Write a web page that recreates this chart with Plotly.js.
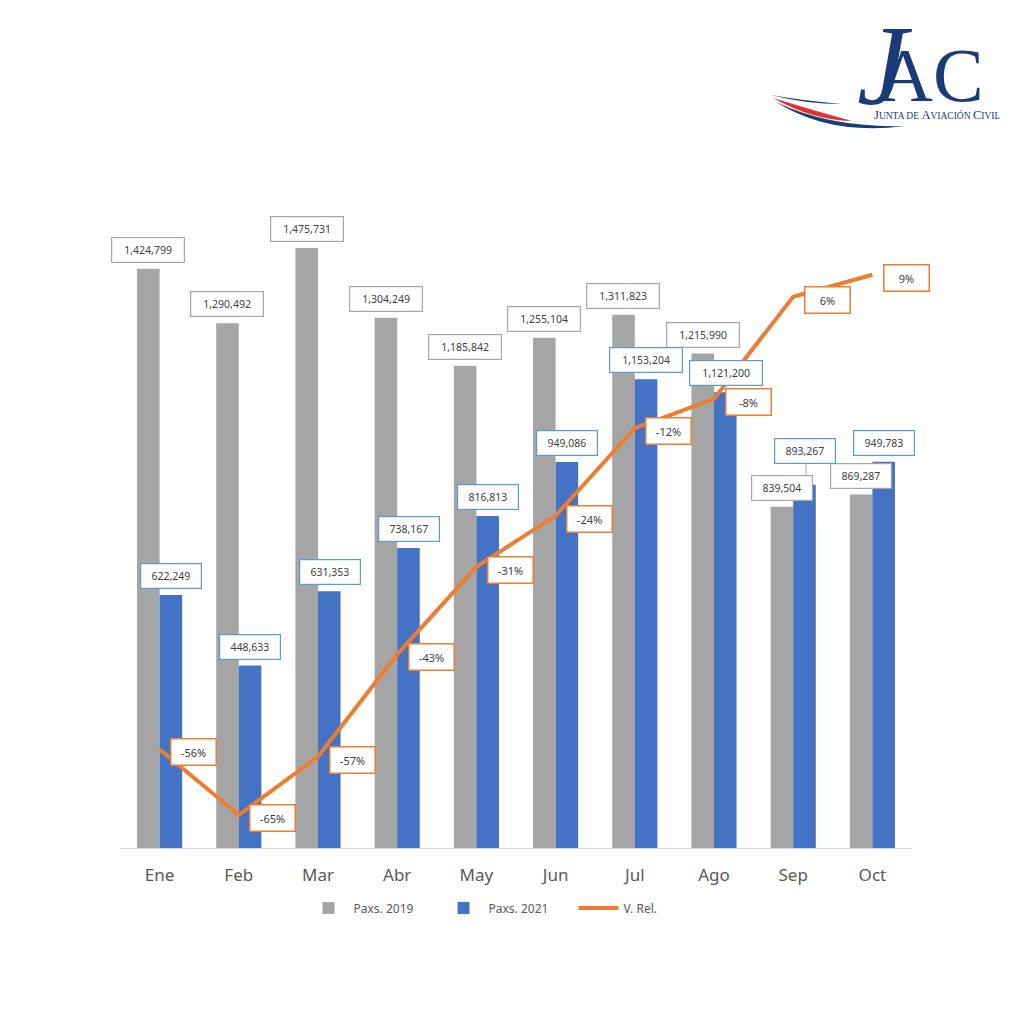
<!DOCTYPE html>
<html><head><meta charset="utf-8">
<script src="https://cdn.plot.ly/plotly-3.0.1.min.js"></script>
<style>html,body{margin:0;padding:0;background:#fff}#chart{width:1024px;height:1024px}</style>
</head><body><div id="chart"></div>
<script>
const months = ['Ene','Feb','Mar','Abr','May','Jun','Jul','Ago','Sep','Oct'];
const pax2019 = [1424799,1290492,1475731,1304249,1185842,1255104,1311823,1215990,839504,869287];
const pax2021 = [622249,448633,631353,738167,816813,949086,1153204,1121200,893267,949783];
const varRel = [-56,-65,-57,-43,-31,-24,-12,-8,6,9];
const seriesNames = ['Paxs. 2019','Paxs. 2021','V. Rel.'];

const GRAY='#A5A5A5', BLUE='#4472C4', ORANGE='#ED7D31';
const FONT='Noto Sans, Open Sans, sans-serif';
const L=120, R=912, T=220, B=848;
const px = x => (x-L)/(R-L);
const py = y => (B-y)/(B-T);

const traces = [
  {type:'bar', name:seriesNames[0], x:months, y:pax2019, marker:{color:GRAY}, hoverinfo:'skip'},
  {type:'bar', name:seriesNames[1], x:months, y:pax2021, marker:{color:BLUE}, hoverinfo:'skip'},
  {type:'scatter', mode:'lines', name:seriesNames[2], x:months, y:varRel, yaxis:'y2',
   line:{color:ORANGE, width:4}, hoverinfo:'skip'}
];

const fmt = v => v.toLocaleString('en-US');
const boxW = t => t.length*6.2+8;
const ann = [];
months.forEach((m,i)=>{
  const t1 = fmt(pax2019[i]);
  ann.push({x:m, y:pax2019[i], xref:'x', yref:'y', xshift:-11.5, yshift:19, showarrow:false,
    text:t1, width:boxW(t1), height:16, borderpad:4, bgcolor:'#fff', bordercolor:'#A6A6A6', borderwidth:1.2,
    font:{family:FONT, size:10.5, color:'#404040'}});
});
months.forEach((m,i)=>{
  const t2 = fmt(pax2021[i]);
  ann.push({x:m, y:pax2021[i], xref:'x', yref:'y', xshift:11.5, yshift:(m==='Sep'?34:19), showarrow:false,
    text:t2, width:boxW(t2), height:16, borderpad:4, bgcolor:'#fff', bordercolor:'#5B9BD5', borderwidth:1.2,
    font:{family:FONT, size:10.5, color:'#404040'}});
});
months.forEach((m,i)=>{
  const t3 = varRel[i]+'%';
  ann.push({x:m, y:varRel[i], xref:'x', yref:'y2', xshift:34, yshift:-3, showarrow:false,
    text:t3, width:36, height:17, borderpad:4, bgcolor:'#fff', bordercolor:ORANGE, borderwidth:1.5,
    font:{family:FONT, size:11, color:'#404040'}});
});

// Logo (decoration)
const NAVY='#1B3B78';
ann.push({xref:'paper', yref:'paper', x:px(855), y:py(66), xanchor:'left', yanchor:'middle', showarrow:false,
  text:'J', font:{family:'Liberation Serif, serif', size:114, color:NAVY, style:'italic'}});
ann.push({xref:'paper', yref:'paper', x:px(876), y:py(75), xanchor:'left', yanchor:'middle', showarrow:false,
  text:'AC', font:{family:'Liberation Serif, serif', size:76, color:NAVY}});
ann.push({xref:'paper', yref:'paper', x:px(872), y:py(115), xanchor:'left', yanchor:'middle', showarrow:false,
  text:'J<span style="font-size:9.5px">UNTA DE </span>A<span style="font-size:9.5px">VIACIÓN </span>C<span style="font-size:9.5px">IVIL</span>',
  font:{family:'Liberation Serif, serif', size:12.5, color:NAVY}});

const P = (x,y)=> px(x).toFixed(4)+','+py(y).toFixed(4);
const shapes = [
  {type:'path', xref:'paper', yref:'paper', line:{width:0}, fillcolor:'#E0322F',
   path:'M'+P(773,98)+' Q'+P(812,120)+' '+P(852,121)+' Q'+P(812,110)+' '+P(773,98)+' Z'},
  {type:'path', xref:'paper', yref:'paper', line:{width:0}, fillcolor:NAVY,
   path:'M'+P(776,102)+' Q'+P(830,136)+' '+P(905,126)+' Q'+P(830,128)+' '+P(776,102)+' Z'},
  {type:'path', xref:'paper', yref:'paper', line:{width:0}, fillcolor:NAVY,
   path:'M'+P(771,95)+' Q'+P(805,104)+' '+P(842,104)+' Q'+P(805,101)+' '+P(771,95)+' Z'},
  // leader line for Sep label
  {type:'line', xref:'paper', yref:'paper', x0:px(806), x1:px(806), y0:py(463), y1:py(476), line:{color:'#A6A6A6', width:1}}
];

const layout = {
  width:1024, height:1024,
  margin:{l:L, r:1024-R, t:T, b:1024-B, pad:0},
  paper_bgcolor:'#fff', plot_bgcolor:'#fff',
  barmode:'group', bargap:0.43, bargroupgap:0,
  showlegend:true,
  legend:{orientation:'h', x:px(506), xanchor:'center', y:py(908), yanchor:'middle',
    font:{family:FONT, size:12, color:'#595959'}, itemwidth:40, entrywidth:80, traceorder:'normal'},
  xaxis:{type:'category', range:[-0.5, 9.5], autorange:false, showline:true, linecolor:'#D9D9D9', linewidth:1, showgrid:false, zeroline:false,
    ticks:'outside', ticklen:12, tickcolor:'rgba(0,0,0,0)',
    tickfont:{family:FONT, size:17, color:'#595959'}},
  yaxis:{range:[0, (B-T)*1475731/600], autorange:false, visible:false, showgrid:false, zeroline:false},
  yaxis2:{range:[-69.52, -69.52+(B-T)/7.3], autorange:false, overlaying:'y', side:'right', visible:false, showgrid:false, zeroline:false},
  annotations:ann, shapes:shapes
};
Plotly.newPlot('chart', traces, layout, {displayModeBar:false, staticPlot:true});
</script></body></html>
